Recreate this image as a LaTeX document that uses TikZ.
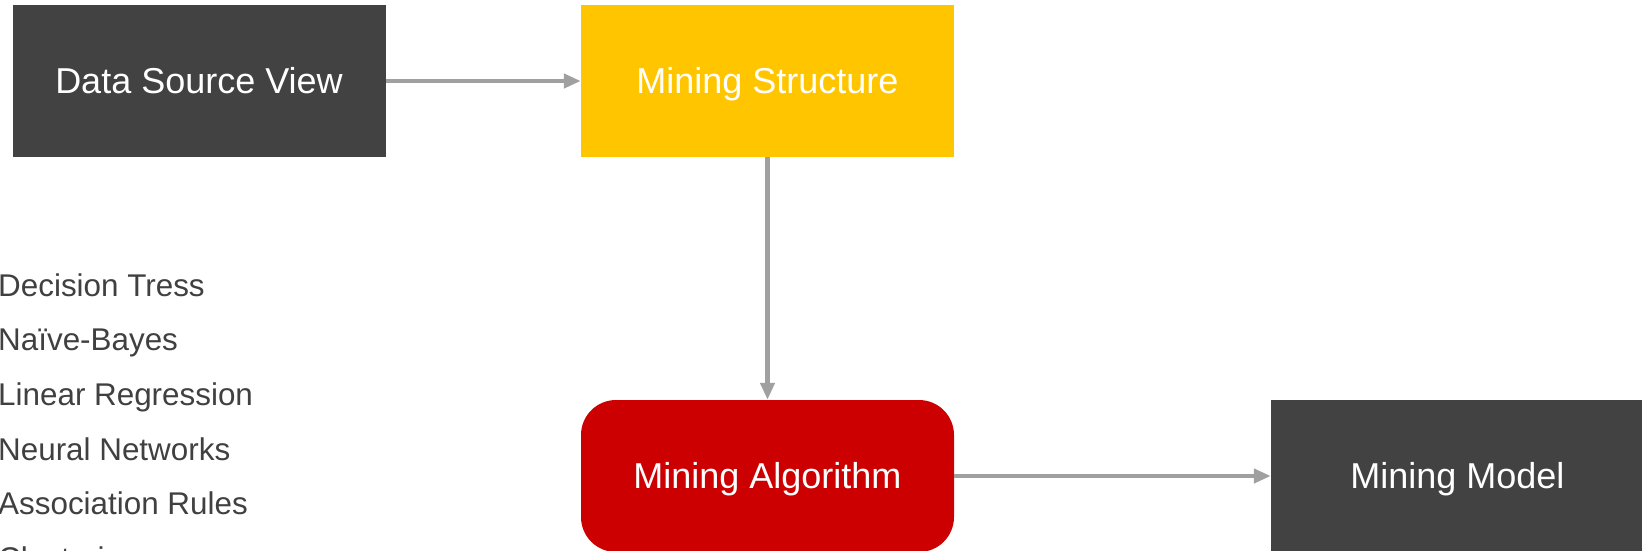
\documentclass[tikz,border=0pt]{standalone}
\usepackage{fontspec}
\setmainfont{Liberation Sans}
\usetikzlibrary{arrows.meta}
\definecolor{darkbox}{HTML}{424242}
\definecolor{gold}{HTML}{FFC600}
\definecolor{crimson}{HTML}{CC0000}
\definecolor{arrowgray}{HTML}{A0A0A0}
\definecolor{listgray}{HTML}{404040}
\begin{document}
\begin{tikzpicture}[x=1pt,y=-1pt,
  box/.style={minimum width=373pt,minimum height=152pt,inner sep=0pt,
    text=white,font=\fontsize{36}{43}\selectfont,text height=25.8pt,text depth=0pt},
  flow/.style={draw=arrowgray,line width=4.5pt,-{Triangle[length=17pt,width=14pt]}},
  item/.style={anchor=base west,inner sep=0pt,text=listgray,
    font=\fontsize{31.4}{38}\selectfont}]
\useasboundingbox (0,0) rectangle (1642,550);
\clip (0,0) rectangle (1642,550);

% process boxes
\node[box,fill=darkbox] (dsv) at (199,81) {Data Source View};
\node[box,fill=gold] (ms) at (767.5,81) {Mining Structure};
\node[box,fill=crimson,rounded corners=35pt] (ma) at (767.5,476) {Mining Algorithm};
\node[box,fill=darkbox] (mm) at (1457.5,476) {Mining Model};

% connectors
\draw[flow] (dsv.east) -- (ms.west);
\draw[flow] (ms.south) -- (ma.north);
\draw[flow] (ma.east) -- (mm.west);

% list of algorithms
\node[item] (l1) at (-2,296) {Decision Tress};
\node[item] (l2) at (-2,350.7) {Naïve-Bayes};
\node[item] (l3) at (-2,405.4) {Linear Regression};
\node[item] (l4) at (-2,460.1) {Neural Networks};
\node[item] (l5) at (-2,514.8) {Association Rules};
\node[item] (l6) at (-2,569.5) {Clustering};
\end{tikzpicture}
\end{document}
